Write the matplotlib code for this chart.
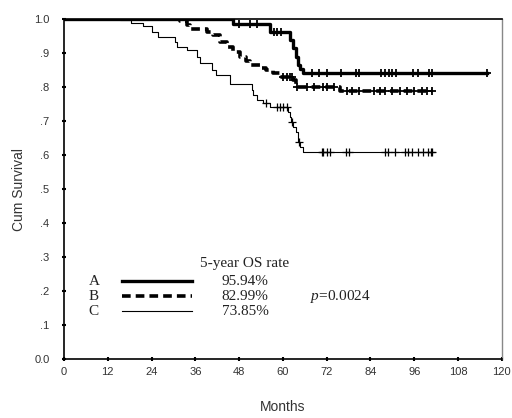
import numpy as np
import matplotlib
matplotlib.use("Agg")
import matplotlib.pyplot as plt

plt.rcParams["mathtext.fontset"] = "custom"
plt.rcParams["mathtext.it"] = "Liberation Serif:italic"
plt.rcParams["mathtext.rm"] = "Liberation Serif"

# Step curves (time in months, cumulative survival)
A_t = [0, 46.3, 56.4, 61.9, 62.8, 63.7, 64.2, 64.7, 65.6, 116]
A_s = [1.0, 0.985, 0.962, 0.938, 0.914, 0.889, 0.865, 0.852, 0.84, 0.84]
A_cens = [48, 51, 53, 57.5, 58.5, 59.5, 68, 70, 72, 76, 80, 81, 87, 88, 89, 90, 91, 95.6, 97, 100, 101, 116]

B_t = [0, 31.8, 33.6, 34.5, 37.3, 39.1, 40.9, 42.7, 44.6, 46.4, 48.2, 50.0, 51.0,
       53.7, 55.5, 57.3, 59.2, 62.8, 63.7, 75.6, 101]
B_s = [1.0, 0.995, 0.982, 0.972, 0.97, 0.963, 0.953, 0.933, 0.919, 0.904, 0.889,
       0.877, 0.865, 0.855, 0.85, 0.842, 0.83, 0.82, 0.80, 0.788, 0.788]
B_cens = [60, 61, 62, 62.5, 64, 66.5, 68.5, 71, 72, 74, 77.5, 79, 81, 85, 86.5, 88, 90,
          92, 94, 96, 98, 99.5, 101]

C_t = [0, 15.3, 18.5, 21.7, 24.0, 25.8, 30.4, 31.0, 33.6, 36.4, 37.3, 40.5, 41.8,
       45.5, 51.4, 51.9, 52.8, 54.6, 56.4, 61.5, 61.9, 62.3, 62.8, 63.7, 64.1, 64.7,
       65.5, 101]
C_s = [1.0, 0.997, 0.989, 0.978, 0.963, 0.948, 0.933, 0.919, 0.909, 0.889, 0.87,
       0.85, 0.835, 0.81, 0.791, 0.776, 0.762, 0.752, 0.742, 0.727, 0.713, 0.698,
       0.683, 0.668, 0.639, 0.624, 0.61, 0.61]
C_cens = [55.5, 58.3, 59.2, 60.1, 61.0, 62.5, 64.3, 70.6, 71.0, 72.0, 72.9, 77.4, 78.2,
          87.9, 88.8, 90.7, 93.4, 94.3, 95.3, 97.1, 98.4, 99.8, 100.7, 101]

groups = ["A", "B", "C"]
rates = ["95.94%", "82.99%", "73.85%"]
p_text = "=0.0024"
x_ticks = [0, 12, 24, 36, 48, 60, 72, 84, 96, 108, 120]
y_ticks = [0.0, 0.1, 0.2, 0.3, 0.4, 0.5, 0.6, 0.7, 0.8, 0.9, 1.0]
y_labels = ["0.0", ".1", ".2", ".3", ".4", ".5", ".6", ".7", ".8", ".9", "1.0"]

fig = plt.figure(figsize=(5.12, 4.18), dpi=100)
ax = fig.add_axes([0.125, 0.141, 0.855, 0.8135])

def surv_at(t_arr, s_arr, t):
    idx = np.searchsorted(t_arr, t, side="right") - 1
    return np.array(s_arr)[idx]

styles = [
    dict(color="black", lw=2.4, ls="-"),
    dict(color="black", lw=2.6, ls=(0, (2.4, 1.4))),
    dict(color="black", lw=0.8, ls="-"),
]
curves = [(A_t, A_s, A_cens), (B_t, B_s, B_cens), (C_t, C_s, C_cens)]
for (t, s, cens), st in zip(curves, styles):
    ax.step(t, s, where="post", **st)
    ax.plot(cens, surv_at(t, s, cens), ls="none", marker="+", color="black",
            ms=6, mew=0.9 if st["lw"] < 1 else 1.3)

ax.set_xlim(0, 120)
ax.set_ylim(0, 1.0)
ax.set_xticks(x_ticks)
ax.set_xticklabels([str(v) for v in x_ticks])
ax.set_yticks(y_ticks)
ax.set_yticklabels(y_labels)
ax.tick_params(direction="inout", length=3, width=1.5, labelsize=8,
               labelcolor="#333333", labelfontfamily="Liberation Sans")
ax.tick_params(axis="y", pad=9)
ax.tick_params(axis="x", pad=4)
for sp in ["left", "bottom", "top"]:
    ax.spines[sp].set_linewidth(1.2)
ax.spines["right"].set_color("#888888")
ax.spines["right"].set_linewidth(1.0)

ax.set_xlabel("Months", fontsize=10, family="Liberation Sans", color="#333333", labelpad=17)
ax.set_ylabel("Cum Survival", fontsize=10, family="Liberation Sans", color="#333333", labelpad=6)

# legend-like annotation
serif = dict(family="Liberation Serif", fontsize=11, color="#222222")
ax.text(37.3, 0.282, "5-year OS rate", va="center", ha="left", **serif)
leg_y = [0.229, 0.185, 0.141]
for g, r, st, y in zip(groups, rates, styles, leg_y):
    ax.text(6.8, y, g, va="center", ha="left", **serif)
    ax.plot([16.0, 35.0], [y, y], **st)
    ax.text(43.2, y, r, va="center", ha="left", **serif)
ax.text(67.4, leg_y[1], r"$p$" + p_text, va="center", ha="left", **serif)

fig.savefig("out.png", dpi=100)
